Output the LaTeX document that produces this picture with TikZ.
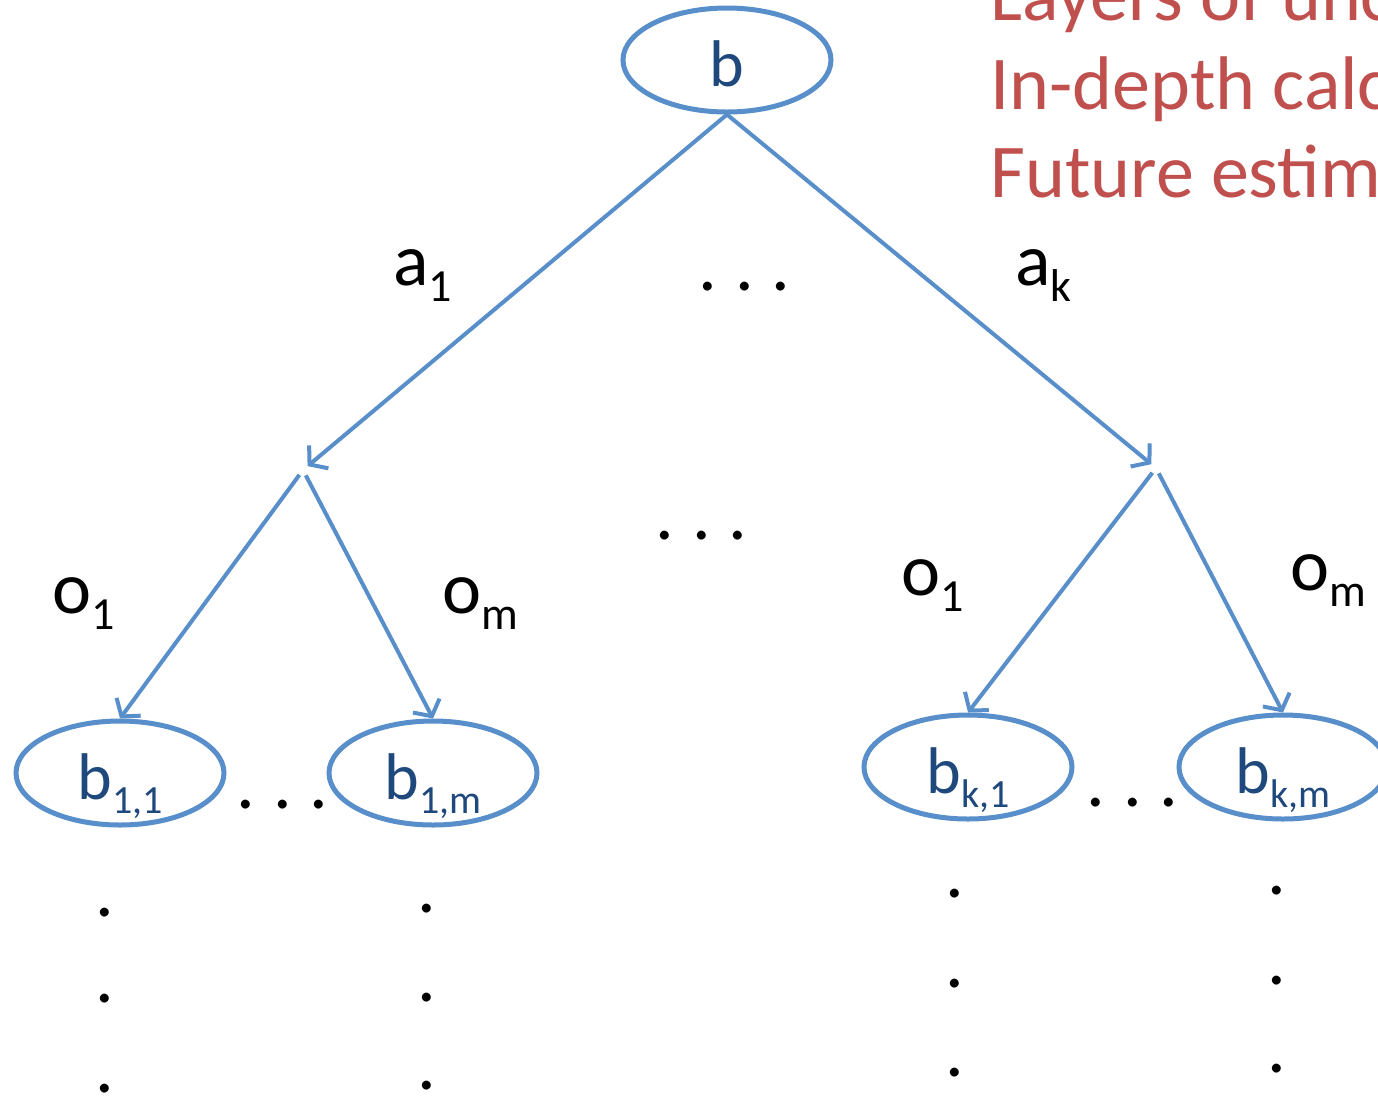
\documentclass[tikz,border=0pt]{standalone}
\usepackage{fontspec}
\setmainfont{Carlito}
\usetikzlibrary{shapes.geometric,arrows.meta}
\definecolor{treeblue}{RGB}{88,142,201}
\definecolor{beliefblue}{RGB}{31,73,125}
\definecolor{notered}{RGB}{192,80,77}
\newcommand\BigFont{\fontsize{37}{44}\selectfont}
\newcommand\NodeFont{\fontsize{33}{40}\selectfont}
\newcommand\lsub[1]{\raisebox{-8pt}{\fontsize{23}{23}\selectfont #1}}
\newcommand\bsub[1]{\raisebox{-7pt}{\fontsize{20}{20}\selectfont #1}}
\newcommand\tdots{.\kern9pt.\kern9pt.}
\tikzset{
  belief/.style={
    shape = ellipse,
    draw = treeblue,
    line width = 2.5pt,
    minimum width = 104pt,
    minimum height = 52pt,
    inner sep = 0pt,
    text = beliefblue,
    text height = 30pt,
    text depth = 4pt,
    font = \NodeFont
  },
}
\tikzset{
  branch/.style={
    draw = treeblue,
    line width = 2pt,
    -{Straight Barb[length=6pt,width=15pt]}
  },
  edgelab/.style={
    anchor = base west,
    inner sep = 0pt,
    font = \BigFont
  },
  vdot/.style={
    anchor = base,
    inner sep = 0pt,
    font = \BigFont
  },
  note/.style={
    anchor = base west,
    inner sep = 0pt,
    text = notered,
    font = \fontsize{38}{44}\selectfont
  }
}
\begin{document}
\begin{tikzpicture}[x=0.5pt,y=-0.5pt]
    \useasboundingbox (0,0) rectangle (1378,1100);
    \clip (0,0) rectangle (1378,1100);

    % notes, running off the right edge
    \foreach \txt/\yb [count=\i] in {Layers of uncertainty/20, In-depth calculation/109, Future estimation/197}
        \node[note] (note\i) at (990,\yb) {\txt};

    \node[belief] (root) at (727,60) {b};
    \node[belief] (b11) at (120,773) {b\bsub{1,1}};
    \node[belief] (b1m) at (433,773) {b\bsub{1,m}};
    \node[belief] (bk1) at (968,767) {b\bsub{k,1}};
    \node[belief] (bkm) at (1283,767) {b\bsub{k,m}};

    \coordinate (act1) at (303,470);
    \coordinate (actk) at (1156,468);

    \draw[branch, shorten >=3pt] (root.south) -- (act1);
    \draw[branch, shorten >=3pt] (root.south) -- (actk);
    \draw[branch, shorten <=3pt] (act1) -- (b11.north);
    \draw[branch, shorten <=3pt] (act1) -- (b1m.north);
    \draw[branch, shorten <=3pt] (actk) -- (bk1.north);
    \draw[branch, shorten <=3pt] (actk) -- (bkm.north);

    \node[edgelab] (a1) at (393,285) {a\lsub{1}};
    \node[edgelab] (ak) at (1015,285) {a\lsub{k}};
    \node[edgelab] (adots) at (698,290) {\tdots};
    \node[edgelab] (odots) at (655,539) {\tdots};
    \node[edgelab] (o1l) at (52,613) {o\lsub{1}};
    \node[edgelab] (oml) at (442,613) {o\lsub{m}};
    \node[edgelab] (o1r) at (901,595) {o\lsub{1}};
    \node[edgelab] (omr) at (1290,590) {o\lsub{m}};
    \node[edgelab] (bdots1) at (236,808) {\tdots};
    \node[edgelab] (bdotsk) at (1086,806) {\tdots};

    % vertical dots below the leaves
    \foreach \x/\ya/\yb/\yc [count=\c] in {105/912/998/1088, 427/908/997/1085, 955/893/983/1072, 1277/890/980/1068}
        \foreach \y [count=\r] in {\ya,\yb,\yc}
            \node[vdot] (vd\c\r) at (\x,\y+4) {.};
\end{tikzpicture}
\end{document}
